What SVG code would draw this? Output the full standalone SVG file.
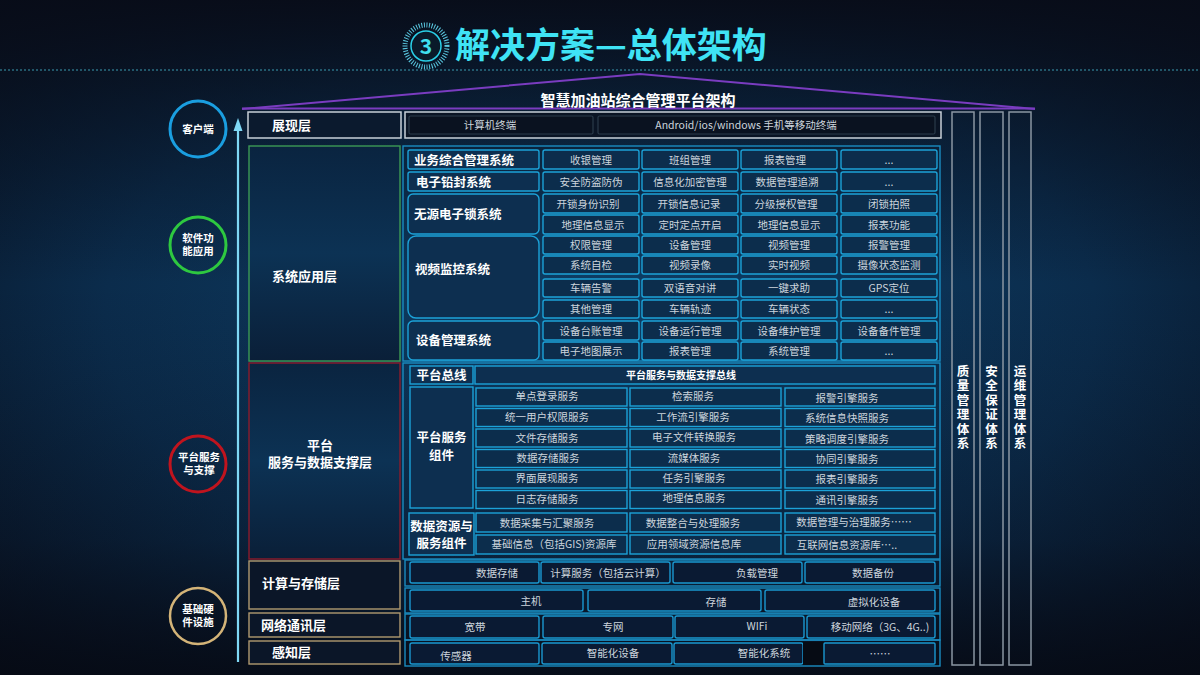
<svg xmlns="http://www.w3.org/2000/svg" width="1200" height="675" viewBox="0 0 1200 675">
<defs>
<radialGradient id="bg" cx="0.5" cy="0.47" r="0.75">
<stop offset="0" stop-color="#0e4068"/>
<stop offset="0.55" stop-color="#0b2c4c"/>
<stop offset="1" stop-color="#070c18"/>
</radialGradient>
<linearGradient id="bgv" x1="0" y1="0" x2="0" y2="1">
<stop offset="0" stop-color="#080c18" stop-opacity="0.95"/>
<stop offset="0.15" stop-color="#080c18" stop-opacity="0.55"/>
<stop offset="0.42" stop-color="#080c18" stop-opacity="0"/>
<stop offset="0.8" stop-color="#080c18" stop-opacity="0.3"/>
<stop offset="1" stop-color="#060a14" stop-opacity="0.85"/>
</linearGradient>
<linearGradient id="lblg" x1="0" y1="0" x2="0" y2="1">
<stop offset="0" stop-color="#0a2440"/>
<stop offset="0.5" stop-color="#0c3254"/>
<stop offset="1" stop-color="#0a1f38"/>
</linearGradient>
<filter id="glow" x="-50%" y="-5%" width="200%" height="110%">
<feGaussianBlur stdDeviation="2.5"/>
</filter>
</defs>
<style>
text{font-family:"Noto Sans CJK SC","Noto Sans",sans-serif;}
.cell{fill:#0c2d4c;stroke:#1ca2d8;stroke-width:1.4;}
.cellD{fill:#0a1a33;stroke:#1a98d0;stroke-width:1.4;}
.outer{fill:none;stroke:#1a8cc0;stroke-width:1.4;}
.lbl{fill:#0d2f50;stroke:#1ca2d8;stroke-width:1.4;}
.t{font-size:10.5px;fill:#cdd5dd;text-anchor:middle;}
.tb{font-size:12.5px;font-weight:bold;fill:#ffffff;}
.lay{font-size:13px;font-weight:bold;fill:#ffffff;}
.ct{font-size:10.5px;font-weight:bold;fill:#ffffff;text-anchor:middle;}
.col{fill:none;stroke:#8a96a2;stroke-width:1.5;}
.colt{font-size:12.5px;font-weight:bold;fill:#ffffff;text-anchor:middle;writing-mode:tb;letter-spacing:2px;}
</style>
<rect width="1200" height="675" fill="url(#bg)"/>
<rect width="1200" height="675" fill="url(#bgv)"/>

<g id="title">
<circle cx="426" cy="46" r="21" fill="none" stroke="#5ac8e0" stroke-width="5" stroke-dasharray="1 1.6"/>
<circle cx="426" cy="46" r="15" fill="#0a1a2a" stroke="#2ad0e8" stroke-width="1.5"/>
<text x="426" y="54" font-size="21" font-weight="bold" fill="#40e0f0" text-anchor="middle">3</text>
<text x="455" y="58" font-size="35" font-weight="bold" fill="#3fe3f5">解决方案—总体架构</text>
<line x1="0" y1="70" x2="1200" y2="70" stroke="#3a9ab0" stroke-width="1" stroke-dasharray="2 2"/>
</g>

<g id="roof">
<polyline points="242,109 640,74 1035,109" fill="none" stroke="#7a3cc0" stroke-width="2"/>
<line x1="242" y1="108.5" x2="1035" y2="108.5" stroke="#7a3cc0" stroke-width="2"/>
<text x="638" y="106" font-size="15" font-weight="bold" fill="#ffffff" text-anchor="middle">智慧加油站综合管理平台架构</text>
</g>

<g id="connectors">
<line x1="238" y1="662" x2="238" y2="124" stroke="#7fd8f5" stroke-width="7" opacity="0.3" filter="url(#glow)"/>
<line x1="238" y1="662" x2="238" y2="128" stroke="#7fd8f5" stroke-width="2.2"/>
<polygon points="238,118 233.5,131 242.5,131" fill="#7fd8f5"/>
</g>

<g id="circle-client">
<circle cx="198" cy="129" r="28" fill="none" stroke="#1a9ee0" stroke-width="3"/>
<text class="ct" x="198" y="133">客户端</text>
</g>
<g id="circle-software">
<circle cx="198" cy="245" r="28" fill="none" stroke="#2ec840" stroke-width="3"/>
<text class="ct" x="198" y="242">软件功</text>
<text class="ct" x="198" y="255">能应用</text>
</g>
<g id="circle-platform">
<circle cx="198" cy="464" r="28" fill="none" stroke="#c0141e" stroke-width="3"/>
<text class="ct" x="199" y="461" font-size="10">平台服务</text>
<text class="ct" x="199" y="474" font-size="10">与支撑</text>
</g>
<g id="circle-hardware">
<circle cx="198" cy="616" r="28" fill="none" stroke="#d4b478" stroke-width="2.5"/>
<text class="ct" x="198" y="613">基础硬</text>
<text class="ct" x="198" y="626">件设施</text>
</g>

<g id="layer-presentation">
<rect x="248" y="112" width="153" height="26" fill="#0b1a2e" stroke="#c8d0d8" stroke-width="1.5"/>
<text class="lay" x="272" y="130">展现层</text>
<rect x="405" y="112" width="536" height="26" fill="#0a1424" stroke="#c8d0d8" stroke-width="1.5"/>
<rect x="409" y="116" width="184" height="18" fill="#0a1220" stroke="#2a3a4a" stroke-width="1.2" rx="1.5"/>
<rect x="598" y="116" width="337" height="18" fill="#0a1220" stroke="#2a3a4a" stroke-width="1.2" rx="1.5"/>
<text class="t" x="490" y="129" fill="#b8c0c8">计算机终端</text>
<text class="t" x="746" y="129">Android/ios/windows 手机等移动终端</text>
</g>

<g id="layer-app">
<rect x="249" y="146" width="151" height="215" fill="url(#lblg)" stroke="#3c9a55" stroke-width="1.4"/>
<text class="lay" x="272" y="281">系统应用层</text>
<rect class="outer" x="403" y="146" width="537" height="215"/>
</g>

<g id="sys-biz">
<rect class="lbl" x="408" y="150" width="131" height="19" rx="2"/>
<text class="tb" x="414" y="164.5">业务综合管理系统</text>
<rect class="cell" x="543" y="150" width="96" height="19" rx="2"/><text class="t" x="591" y="163.5">收银管理</text>
<rect class="cell" x="642" y="150" width="96" height="19" rx="2"/><text class="t" x="690" y="163.5">班组管理</text>
<rect class="cell" x="741" y="150" width="96" height="19" rx="2"/><text class="t" x="785" y="163.5">报表管理</text>
<rect class="cell" x="841" y="150" width="96" height="19" rx="2"/><text class="t" x="889" y="163.5">...</text>
</g>
<g id="sys-seal">
<rect class="lbl" x="408" y="172" width="131" height="19" rx="2"/>
<text class="tb" x="416" y="186.5">电子铅封系统</text>
<rect class="cell" x="543" y="172" width="96" height="19" rx="2"/><text class="t" x="591" y="186">安全防盗防伪</text>
<rect class="cell" x="642" y="172" width="96" height="19" rx="2"/><text class="t" x="690" y="186">信息化加密管理</text>
<rect class="cell" x="741" y="172" width="96" height="19" rx="2"/><text class="t" x="787" y="186">数据管理追溯</text>
<rect class="cell" x="841" y="172" width="96" height="19" rx="2"/><text class="t" x="889" y="186">...</text>
</g>
<g id="sys-lock">
<rect class="lbl" x="408" y="194" width="131" height="40" rx="5"/>
<text class="tb" x="414" y="219">无源电子锁系统</text>
<rect class="cell" x="543" y="194" width="96" height="19" rx="2"/><text class="t" x="588" y="207.5">开锁身份识别</text>
<rect class="cell" x="642" y="194" width="96" height="19" rx="2"/><text class="t" x="689" y="207.5">开锁信息记录</text>
<rect class="cell" x="741" y="194" width="96" height="19" rx="2"/><text class="t" x="786" y="207.5">分级授权管理</text>
<rect class="cell" x="841" y="194" width="96" height="19" rx="2"/><text class="t" x="889" y="207.5">闭锁拍照</text>
<rect class="cell" x="543" y="215" width="96" height="19" rx="2"/><text class="t" x="593" y="228.5">地理信息显示</text>
<rect class="cell" x="642" y="215" width="96" height="19" rx="2"/><text class="t" x="690" y="228.5">定时定点开启</text>
<rect class="cell" x="741" y="215" width="96" height="19" rx="2"/><text class="t" x="789" y="228.5">地理信息显示</text>
<rect class="cell" x="841" y="215" width="96" height="19" rx="2"/><text class="t" x="889" y="228.5">报表功能</text>
</g>
<g id="sys-video">
<rect class="lbl" x="408" y="236" width="131" height="82" rx="8"/>
<text class="tb" x="415" y="274">视频监控系统</text>
<rect class="cell" x="543" y="236" width="96" height="18" rx="2"/><text class="t" x="591" y="249">权限管理</text>
<rect class="cell" x="642" y="236" width="96" height="18" rx="2"/><text class="t" x="690" y="249">设备管理</text>
<rect class="cell" x="741" y="236" width="96" height="18" rx="2"/><text class="t" x="789" y="249">视频管理</text>
<rect class="cell" x="841" y="236" width="96" height="18" rx="2"/><text class="t" x="889" y="249">报警管理</text>
<rect class="cell" x="543" y="256" width="96" height="18" rx="2"/><text class="t" x="591" y="269">系统自检</text>
<rect class="cell" x="642" y="256" width="96" height="18" rx="2"/><text class="t" x="690" y="269">视频录像</text>
<rect class="cell" x="741" y="256" width="96" height="18" rx="2"/><text class="t" x="789" y="269">实时视频</text>
<rect class="cell" x="841" y="256" width="96" height="18" rx="2"/><text class="t" x="889" y="269">摄像状态监测</text>
<rect class="cell" x="543" y="279" width="96" height="18" rx="2"/><text class="t" x="591" y="292">车辆告警</text>
<rect class="cell" x="642" y="279" width="96" height="18" rx="2"/><text class="t" x="690" y="292">双语音对讲</text>
<rect class="cell" x="741" y="279" width="96" height="18" rx="2"/><text class="t" x="789" y="292">一键求助</text>
<rect class="cell" x="841" y="279" width="96" height="18" rx="2"/><text class="t" x="889" y="292">GPS定位</text>
<rect class="cell" x="543" y="300" width="96" height="18" rx="2"/><text class="t" x="591" y="313">其他管理</text>
<rect class="cell" x="642" y="300" width="96" height="18" rx="2"/><text class="t" x="690" y="313">车辆轨迹</text>
<rect class="cell" x="741" y="300" width="96" height="18" rx="2"/><text class="t" x="789" y="313">车辆状态</text>
<rect class="cell" x="841" y="300" width="96" height="18" rx="2"/><text class="t" x="889" y="313">...</text>
</g>
<g id="sys-device">
<rect class="lbl" x="408" y="321" width="131" height="39" rx="5"/>
<text class="tb" x="416" y="345">设备管理系统</text>
<rect class="cell" x="543" y="321" width="96" height="19" rx="2"/><text class="t" x="591" y="334.5">设备台账管理</text>
<rect class="cell" x="642" y="321" width="96" height="19" rx="2"/><text class="t" x="690" y="334.5">设备运行管理</text>
<rect class="cell" x="741" y="321" width="96" height="19" rx="2"/><text class="t" x="789" y="334.5">设备维护管理</text>
<rect class="cell" x="841" y="321" width="96" height="19" rx="2"/><text class="t" x="889" y="334.5">设备备件管理</text>
<rect class="cell" x="543" y="342" width="96" height="18" rx="2"/><text class="t" x="591" y="355">电子地图展示</text>
<rect class="cell" x="642" y="342" width="96" height="18" rx="2"/><text class="t" x="690" y="355">报表管理</text>
<rect class="cell" x="741" y="342" width="96" height="18" rx="2"/><text class="t" x="789" y="355">系统管理</text>
<rect class="cell" x="841" y="342" width="96" height="18" rx="2"/><text class="t" x="889" y="355">...</text>
</g>

<g id="layer-platform">
<rect x="249" y="363" width="151" height="196" fill="url(#lblg)" stroke="#8c1c2c" stroke-width="1.4"/>
<text class="lay" x="320" y="450" text-anchor="middle">平台</text>
<text class="lay" x="320" y="467" text-anchor="middle">服务与数据支撑层</text>
<rect class="outer" x="403" y="363" width="537" height="196"/>
</g>
<g id="platform-bus">
<rect class="lbl" x="410" y="366" width="63" height="18"/>
<text class="tb" x="441.5" y="380" text-anchor="middle">平台总线</text>
<rect class="lbl" x="475" y="366" width="460" height="18"/>
<text x="681" y="379" font-size="10" font-weight="bold" fill="#ffffff" text-anchor="middle">平台服务与数据支撑总线</text>
</g>
<g id="platform-services">
<rect class="lbl" x="410" y="387" width="63" height="121"/>
<text class="tb" x="441.5" y="442" text-anchor="middle" font-size="12">平台服务</text>
<text class="tb" x="441.5" y="460" text-anchor="middle" font-size="12">组件</text>
<rect class="cell" x="476" y="388" width="151" height="18"/><text class="t" x="547" y="400">单点登录服务</text>
<rect class="cell" x="630" y="388" width="151" height="18"/><text class="t" x="693" y="400">检索服务</text>
<rect class="cell" x="785" y="388" width="150" height="18"/><text class="t" x="847" y="402">报警引擎服务</text>
<rect class="cell" x="476" y="408.5" width="151" height="18"/><text class="t" x="547" y="421">统一用户权限服务</text>
<rect class="cell" x="630" y="408.5" width="151" height="18"/><text class="t" x="693" y="421">工作流引擎服务</text>
<rect class="cell" x="785" y="408.5" width="150" height="18"/><text class="t" x="847" y="422">系统信息快照服务</text>
<rect class="cell" x="476" y="429" width="151" height="18"/><text class="t" x="547" y="441.5">文件存储服务</text>
<rect class="cell" x="630" y="429" width="151" height="18"/><text class="t" x="694" y="441">电子文件转换服务</text>
<rect class="cell" x="785" y="429" width="150" height="18"/><text class="t" x="847" y="442.5">策略调度引擎服务</text>
<rect class="cell" x="476" y="449.5" width="151" height="18"/><text class="t" x="548" y="461.5">数据存储服务</text>
<rect class="cell" x="630" y="449.5" width="151" height="18"/><text class="t" x="694" y="461.5">流媒体服务</text>
<rect class="cell" x="785" y="449.5" width="150" height="18"/><text class="t" x="847" y="462.5">协同引擎服务</text>
<rect class="cell" x="476" y="470" width="151" height="18"/><text class="t" x="547" y="482">界面展现服务</text>
<rect class="cell" x="630" y="470" width="151" height="18"/><text class="t" x="694" y="482">任务引擎服务</text>
<rect class="cell" x="785" y="470" width="150" height="18"/><text class="t" x="847" y="483">报表引擎服务</text>
<rect class="cell" x="476" y="490.5" width="151" height="18"/><text class="t" x="547" y="502.5">日志存储服务</text>
<rect class="cell" x="630" y="490.5" width="151" height="18"/><text class="t" x="694" y="502">地理信息服务</text>
<rect class="cell" x="785" y="490.5" width="150" height="18"/><text class="t" x="847" y="503.5">通讯引擎服务</text>
</g>
<g id="data-resources">
<rect class="lbl" x="409" y="513" width="65" height="42"/>
<text class="tb" x="441.5" y="531" text-anchor="middle">数据资源与</text>
<text class="tb" x="441.5" y="548" text-anchor="middle">服务组件</text>
<rect class="cell" x="476" y="513" width="151" height="19"/><text class="t" x="547" y="526.5">数据采集与汇聚服务</text>
<rect class="cell" x="630" y="513" width="151" height="19"/><text class="t" x="693" y="526.5">数据整合与处理服务</text>
<rect class="cell" x="785" y="513" width="150" height="19"/><text class="t" x="854" y="525.5">数据管理与治理服务……</text>
<rect class="cell" x="476" y="535" width="151" height="19"/><text class="t" x="554" y="547.5">基础信息（包括GIS)资源库</text>
<rect class="cell" x="630" y="535" width="151" height="19"/><text class="t" x="694" y="547.5">应用领域资源信息库</text>
<rect class="cell" x="785" y="535" width="150" height="19"/><text class="t" x="847" y="549">互联网信息资源库…..</text>
</g>

<g id="layer-compute">
<rect x="249" y="561" width="151" height="48" fill="#0b1628" stroke="#b09a70" stroke-width="1.4"/>
<text class="lay" x="262" y="588">计算与存储层</text>
<rect class="outer" x="405" y="560" width="535" height="26"/>
<rect class="cellD" x="410" y="562" width="129" height="21" rx="2"/><text class="t" x="497" y="577">数据存储</text>
<rect class="cellD" x="541" y="562" width="129" height="21" rx="2"/><text class="t" x="608" y="577">计算服务（包括云计算）</text>
<rect class="cellD" x="673" y="562" width="129" height="21" rx="2"/><text class="t" x="757" y="577">负载管理</text>
<rect class="cellD" x="805" y="562" width="130" height="21" rx="2"/><text class="t" x="873" y="577">数据备份</text>
<rect class="outer" x="405" y="588" width="535" height="25"/>
<rect class="cellD" x="410" y="590" width="173" height="21" rx="2"/><text class="t" x="531" y="605">主机</text>
<rect class="cellD" x="588" y="590" width="173" height="21" rx="2"/><text class="t" x="716" y="606">存储</text>
<rect class="cellD" x="765" y="590" width="170" height="21" rx="2"/><text class="t" x="874" y="606">虚拟化设备</text>
</g>

<g id="layer-network">
<rect x="249" y="613" width="151" height="24" fill="#0b1628" stroke="#b09a70" stroke-width="1.4"/>
<text class="lay" x="261" y="630">网络通讯层</text>
<rect class="outer" x="405" y="614" width="535" height="26"/>
<rect class="cellD" x="410" y="616" width="129" height="22" rx="2"/><text class="t" x="475" y="631">宽带</text>
<rect class="cellD" x="543" y="616" width="130" height="22" rx="2"/><text class="t" x="613" y="631">专网</text>
<rect class="cellD" x="675" y="616" width="129" height="22" rx="2"/><text class="t" x="757" y="630">WIFi</text>
<rect class="cellD" x="807" y="616" width="128" height="22" rx="2"/><text class="t" x="880" y="631">移动网络（3G、4G..)</text>
</g>

<g id="layer-sensing">
<rect x="249" y="641" width="151" height="23" fill="#0b1628" stroke="#b09a70" stroke-width="1.4"/>
<text class="lay" x="272" y="657">感知层</text>
<rect class="outer" x="405" y="640" width="535" height="26"/>
<rect class="cellD" x="410" y="643" width="129" height="21" rx="2"/><text class="t" x="456" y="660">传感器</text>
<rect class="cellD" x="542" y="643" width="130" height="21" rx="2"/><text class="t" x="613" y="657">智能化设备</text>
<rect class="cellD" x="674" y="643" width="129" height="21" rx="2"/><text class="t" x="764" y="657">智能化系统</text>
<rect x="803" y="642" width="21" height="23" fill="#060b14"/>
<rect class="cellD" x="824" y="643" width="111" height="21" rx="1"/><text class="t" x="880" y="658">……</text>
</g>

<g id="col-quality">
<rect class="col" x="952" y="112" width="22" height="553"/>
<text class="colt" x="963" y="408">质量管理体系</text>
</g>
<g id="col-security">
<rect class="col" x="980" y="112" width="23" height="553"/>
<text class="colt" x="991.5" y="408">安全保证体系</text>
</g>
<g id="col-ops">
<rect class="col" x="1009" y="112" width="22" height="553"/>
<text class="colt" x="1020" y="408">运维管理体系</text>
</g>
</svg>
